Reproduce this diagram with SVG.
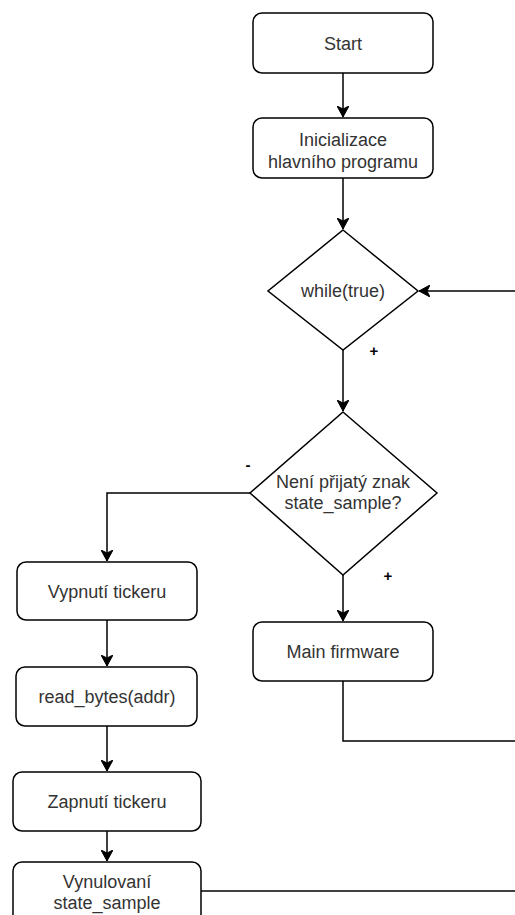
<svg xmlns="http://www.w3.org/2000/svg" width="515" height="915" viewBox="0 0 515 915">
  <style>
    .box { fill: #ffffff; stroke: #000000; stroke-width: 1.5; }
    .lbl { font-family: "Liberation Sans", Arial, sans-serif; font-size: 18px; fill: #333333; text-anchor: middle; }
    .sign { font-family: "Liberation Sans", Arial, sans-serif; font-size: 15px; font-weight: bold; fill: #000000; text-anchor: middle; }
    .edge { fill: none; stroke: #000000; stroke-width: 1.5; }
  </style>
  <defs>
    <marker id="arrow" markerUnits="userSpaceOnUse" markerWidth="12" markerHeight="12" viewBox="0 0 12 12" refX="11" refY="6" orient="auto">
      <path d="M0,0 L11,6 L0,12 L3,6 Z" fill="#000000" stroke="#000000" stroke-width="1"/>
    </marker>
  </defs>

  <rect width="515" height="915" fill="#ffffff"/>

  <!-- connectors -->
  <g id="connectors">
    <path class="edge" d="M343,73 L343,117" marker-end="url(#arrow)"/>
    <path class="edge" d="M343,178 L343,229" marker-end="url(#arrow)"/>
    <path class="edge" d="M343,350 L343,411" marker-end="url(#arrow)"/>
    <path class="edge" d="M515,291 L419,291" marker-end="url(#arrow)"/>
    <path class="edge" d="M250,493 L107,493 L107,561" marker-end="url(#arrow)"/>
    <path class="edge" d="M343,575 L343,621" marker-end="url(#arrow)"/>
    <path class="edge" d="M343,681 L343,741 L515,741"/>
    <path class="edge" d="M107,620 L107,666" marker-end="url(#arrow)"/>
    <path class="edge" d="M107,726 L107,771" marker-end="url(#arrow)"/>
    <path class="edge" d="M107,831 L107,861" marker-end="url(#arrow)"/>
    <path class="edge" d="M201,891 L515,891"/>
    <text class="sign" x="374" y="356">+</text>
    <text class="sign" x="248" y="470">-</text>
    <text class="sign" x="388" y="581">+</text>
  </g>

  <g id="start">
    <rect class="box" x="253" y="13" width="180" height="60" rx="9"/>
    <text class="lbl" x="343" y="49.5">Start</text>
  </g>

  <g id="init">
    <rect class="box" x="253" y="118" width="180" height="60" rx="9"/>
    <text class="lbl" x="343" y="146">Inicializace</text>
    <text class="lbl" x="343" y="168">hlavního programu</text>
  </g>

  <g id="loop">
    <polygon class="box" points="343,230 418,291 343,350 268,291"/>
    <text class="lbl" x="343" y="297">while(true)</text>
  </g>

  <g id="check">
    <polygon class="box" points="343,412 437,493 343,575 250,493"/>
    <text class="lbl" x="343" y="488">Není přijatý znak</text>
    <text class="lbl" x="343" y="509">state_sample?</text>
  </g>

  <g id="ticker-off">
    <rect class="box" x="17" y="562" width="180" height="58" rx="9"/>
    <text class="lbl" x="107" y="598">Vypnutí tickeru</text>
  </g>

  <g id="main-fw">
    <rect class="box" x="253" y="622" width="180" height="59" rx="9"/>
    <text class="lbl" x="343" y="658">Main firmware</text>
  </g>

  <g id="read-bytes">
    <rect class="box" x="16" y="667" width="181" height="59" rx="9"/>
    <text class="lbl" x="107" y="703">read_bytes(addr)</text>
  </g>

  <g id="ticker-on">
    <rect class="box" x="13" y="772" width="188" height="59" rx="9"/>
    <text class="lbl" x="107" y="808">Zapnutí tickeru</text>
  </g>

  <g id="reset">
    <rect class="box" x="13" y="862" width="188" height="70" rx="9"/>
    <text class="lbl" x="107" y="888">Vynulovaní</text>
    <text class="lbl" x="107" y="909">state_sample</text>
  </g>
</svg>
